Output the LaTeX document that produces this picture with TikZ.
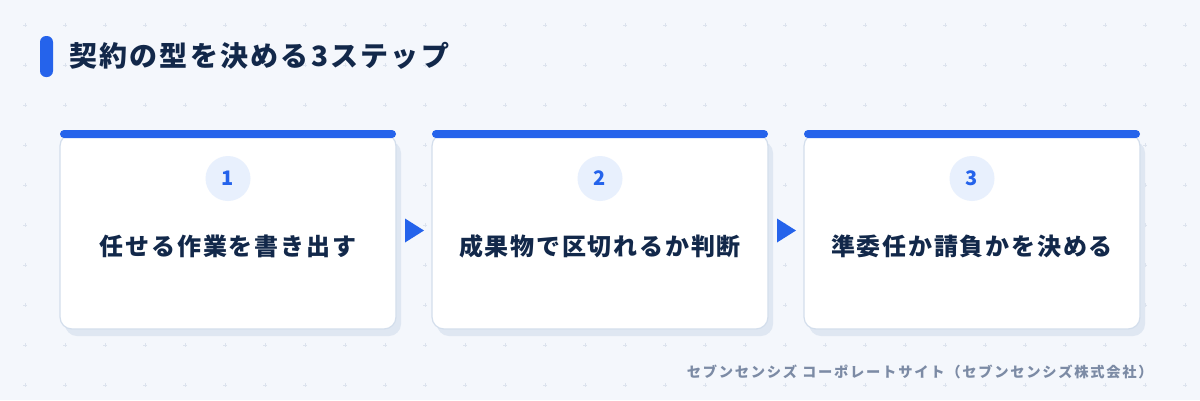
\documentclass[tikz,border=0pt]{standalone}
\usepackage{fontspec}
\setmainfont{Noto Sans CJK JP}
\usetikzlibrary{shadows,calc}
\definecolor{bgc}{HTML}{F4F7FC}
\definecolor{gridc}{HTML}{DCE3EE}
\definecolor{accent}{HTML}{2563EB}
\definecolor{ink}{HTML}{12284A}
\definecolor{cardline}{HTML}{D3DEEC}
\definecolor{shadowc}{HTML}{DFE7F2}
\definecolor{dotfill}{HTML}{E8F0FD}
\definecolor{footc}{HTML}{7C8BA5}

\begin{document}
\begin{tikzpicture}[x=1pt,y=-1pt,
    card/.style={draw=cardline, line width=1.2pt, fill=white, rounded corners=12pt,
      minimum width=336pt, minimum height=195pt, outer sep=0pt,
      drop shadow={shadow xshift=5pt, shadow yshift=-7pt, opacity=1, fill=shadowc}},
    topbar/.style={fill=accent, rounded corners=4pt},
    numdot/.style={circle, fill=dotfill, minimum size=45pt, inner sep=0pt, text=accent,
      font=\bfseries\fontsize{20}{24}\selectfont},
    steptext/.style={text=ink, inner sep=0pt,
      font=\bfseries\fontsize{24}{28}\selectfont\addfontfeatures{LetterSpace=7.5}},
    nextmark/.style={fill=accent},
    pip/.style={draw=gridc, line width=0.8pt}]
    \useasboundingbox (0,0) rectangle (1200,400);
    \fill[bgc] (0,0) rectangle (1200,400);
    \foreach \x in {25,65,...,1185}
      \foreach \y in {25,65,...,385}
        \draw[pip] (\x-1.6,\y) -- (\x+1.6,\y) (\x,\y-1.6) -- (\x,\y+1.6);

    \fill[accent, rounded corners=6pt] (40,36) rectangle (53,77);
    \node[anchor=west, inner sep=0pt, text=ink,
      font=\bfseries\fontsize{28}{32}\selectfont\addfontfeatures{LetterSpace=8}] (title) at (69,55.5) {契約の型を決める3ステップ};

    \node[card] (c1) at (228,231.5) {};
    \node[card] (c2) at (600,231.5) {};
    \node[card] (c3) at (972,231.5) {};
    \fill[topbar] ([yshift=4pt]c1.north west) rectangle ([yshift=-4pt]c1.north east);
    \fill[topbar] ([yshift=4pt]c2.north west) rectangle ([yshift=-4pt]c2.north east);
    \fill[topbar] ([yshift=4pt]c3.north west) rectangle ([yshift=-4pt]c3.north east);

    \node[numdot] (n1) at ([yshift=-44.5pt]c1.north) {1};
    \node[numdot] (n2) at ([yshift=-44.5pt]c2.north) {2};
    \node[numdot] (n3) at ([yshift=-44.5pt]c3.north) {3};
    \node[steptext] (t1) at ([yshift=-112pt]c1.north) {任せる作業を書き出す};
    \node[steptext] (t2) at ([yshift=-112pt]c2.north) {成果物で区切れるか判断};
    \node[steptext] (t3) at ([yshift=-112pt]c3.north) {準委任か請負かを決める};

    \coordinate (m1) at ($(c1.east)!0.5!(c2.west)$);
    \coordinate (m2) at ($(c2.east)!0.5!(c3.west)$);
    \fill[nextmark] ($(m1)+(-9,-13)$) -- ($(m1)+(10,-1)$) -- ($(m1)+(-9,11)$) -- cycle;
    \fill[nextmark] ($(m2)+(-9,-13)$) -- ($(m2)+(10,-1)$) -- ($(m2)+(-9,11)$) -- cycle;

    \node[anchor=east, inner sep=0pt, text=footc,
      font=\bfseries\fontsize{14.3}{16}\selectfont\addfontfeatures{LetterSpace=12}] (credit) at (1153,372) {セブンセンシズ コーポレートサイト（セブンセンシズ株式会社）};
\end{tikzpicture}
\end{document}
